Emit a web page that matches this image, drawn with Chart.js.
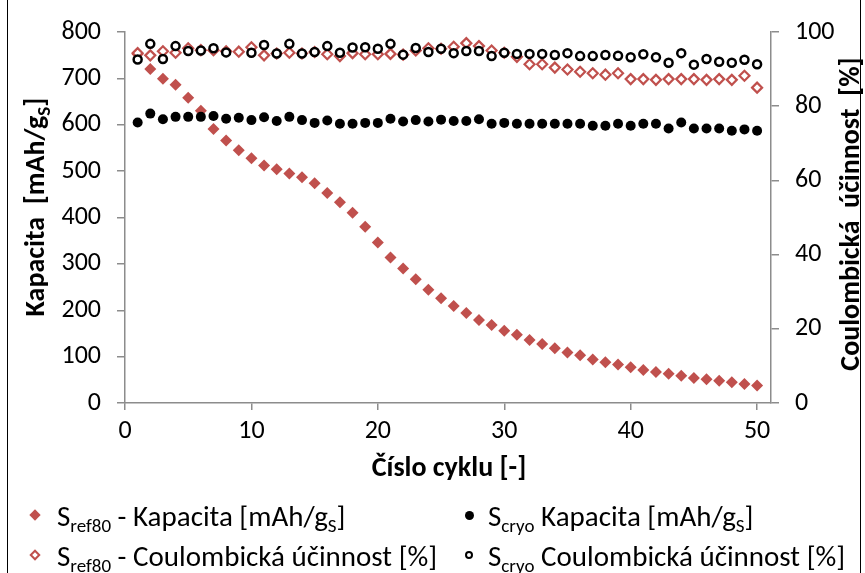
<!DOCTYPE html>
<html>
<head>
<meta charset="utf-8">
<script src="https://cdn.jsdelivr.net/npm/chart.js@4"></script>
<style>
  body { margin: 0; background: #fff; }
  #wrap { position: relative; width: 865px; height: 573px; font-family: Carlito, Lato, "Open Sans", sans-serif; color: #000; }
  #chart { position: absolute; left: 0; top: 0; }
  .frame { position: absolute; top: 0; bottom: 0; width: 0; border-left: 1.5px solid #000; }
  .title { position: absolute; font-weight: bold; font-size: 28px; white-space: nowrap; line-height: 1; }
  .rot { transform: translate(-50%, -50%) rotate(-90deg); }
  .legend { position: absolute; font-size: 29px; white-space: nowrap; line-height: 1; }
  sub { font-size: 19px; vertical-align: -6px; line-height: 0; }
  .mk { position: absolute; box-sizing: border-box; }
</style>
</head>
<body>
<div id="wrap">
  <canvas id="chart" width="865" height="573"></canvas>
  <div class="frame" style="left:7px"></div>
  <div class="frame" style="left:860px"></div>
  <div class="title rot" style="left:35px; top:207px">Kapacita&nbsp; [mAh/g<sub>S</sub>]</div>
  <div class="title rot" style="left:850px; top:214px">Coulombická&nbsp; účinnost&nbsp; [%]</div>
  <div class="title" style="left:449px; top:467px; transform: translate(-50%, -50%)">Číslo cyklu [-]</div>

  <div class="mk" style="left:31px; top:511px; width:8px; height:8px; background:#C0504D; transform:rotate(45deg)"></div>
  <div class="legend" style="left:57px; top:502px">S<sub>ref80</sub> - Kapacita [mAh/g<sub>S</sub>]</div>
  <div class="mk" style="left:465px; top:511px; width:9px; height:9px; background:#000; border-radius:50%"></div>
  <div class="legend" style="left:488px; top:502px">S<sub>cryo</sub> Kapacita [mAh/g<sub>S</sub>]</div>

  <div class="mk" style="left:31px; top:551px; width:8px; height:8px; border:2px solid #C0504D; background:#fff; transform:rotate(45deg)"></div>
  <div class="legend" style="left:57px; top:542px">S<sub>ref80</sub> - Coulombická účinnost [%]</div>
  <div class="mk" style="left:465px; top:551px; width:8px; height:8px; border:2px solid #000; background:#fff; border-radius:50%"></div>
  <div class="legend" style="left:488px; top:542px">S<sub>cryo</sub> Coulombická účinnost [%]</div>
</div>
<script>
const cycles = [1, 2, 3, 4, 5, 6, 7, 8, 9, 10, 11, 12, 13, 14, 15, 16, 17, 18, 19, 20,
  21, 22, 23, 24, 25, 26, 27, 28, 29, 30, 31, 32, 33, 34, 35, 36, 37, 38, 39, 40,
  41, 42, 43, 44, 45, 46, 47, 48, 49, 50]

const refCapacity = [752, 720, 699, 686, 658, 630, 591, 566, 545, 528, 512, 504, 495, 487, 474, 453, 433, 410, 380, 346,
  314, 290, 267, 244, 226, 209, 194, 179, 168, 156, 147, 136, 127, 118, 109, 103, 94, 88, 83, 77,
  71, 67, 63, 59, 54, 51, 48, 45, 41, 38]

const cryoCapacity = [605, 624, 612, 617, 617, 617, 619, 613, 615, 610, 616, 608, 617, 610, 604, 609, 602, 602, 604, 604,
  613, 607, 610, 607, 611, 608, 608, 612, 602, 604, 602, 602, 602, 602, 602, 602, 598, 598, 602, 598,
  602, 602, 592, 605, 592, 592, 592, 587, 590, 587]

const refEfficiency = [94.3, 93.7, 94.8, 94.4, 95.6, 95.1, 95.1, 94.8, 94.7, 95.9, 93.7, 94.2, 94.4, 94.2, 94.6, 94.0, 93.5, 94.3, 94.0, 94.0,
  94.1, 93.9, 95.0, 95.6, 95.5, 96.0, 97.0, 96.2, 95.0, 94.4, 93.3, 91.3, 91.3, 90.4, 89.9, 89.3, 88.9, 88.5, 88.9, 87.3,
  87.3, 87.1, 87.3, 87.3, 87.3, 87.1, 87.3, 87.1, 88.2, 85.0]

const cryoEfficiency = [92.6, 96.8, 92.7, 96.2, 94.9, 95.0, 95.6, 94.5, null, 94.4, 96.5, 94.2, 96.8, 94.2, 94.6, 96.2, 94.4, 95.8, 95.9, 95.5,
  96.8, 93.9, 95.7, 94.6, 95.5, 94.3, 94.9, 94.9, 93.5, 94.4, 94.1, 94.1, 94.1, 93.8, 94.3, 93.5, 93.5, 93.8, 93.6, 93.2,
  94.0, 93.2, 91.7, 94.3, 91.2, 92.7, 92.0, 91.7, 92.5, 91.3]

const xTicks = [0, 10, 20, 30, 40, 50]

const red = "#C0504D"
const axisColor = "#8c8c8c"
const fontFamily = 'Carlito, Lato, "Open Sans", sans-serif'

function toPoints(values) {
  return cycles.map((c, i) => ({ x: c, y: values[i] }))
}

const ctx = document.getElementById("chart").getContext("2d")
const chart = new Chart(ctx, {
  type: "scatter",
  data: {
    datasets: [
      {
        label: "Scryo Coulombická účinnost [%]",
        data: toPoints(cryoEfficiency),
        yAxisID: "y2",
        pointStyle: "circle",
        pointRadius: 4,
        borderWidth: 2.5,
        borderColor: "#000",
        backgroundColor: "#fff"
      },
      {
        label: "Scryo Kapacita [mAh/gS]",
        data: toPoints(cryoCapacity),
        yAxisID: "y",
        pointStyle: "circle",
        pointRadius: 5,
        borderWidth: 0,
        borderColor: "#000",
        backgroundColor: "#000"
      },
      {
        label: "Sref80 - Coulombická účinnost [%]",
        data: toPoints(refEfficiency),
        yAxisID: "y2",
        pointStyle: "rectRot",
        pointRadius: 5,
        borderWidth: 2.2,
        borderColor: red,
        backgroundColor: "#fff"
      },
      {
        label: "Sref80 - Kapacita [mAh/gS]",
        data: toPoints(refCapacity),
        yAxisID: "y",
        pointStyle: "rectRot",
        pointRadius: 6,
        borderWidth: 0,
        borderColor: red,
        backgroundColor: red
      }
    ]
  },
  options: {
    responsive: false,
    animation: false,
    devicePixelRatio: 1,
    layout: { padding: { top: 32, left: 0, right: 0, bottom: 0 } },
    plugins: {
      legend: { display: false },
      tooltip: { enabled: false }
    },
    scales: {
      x: {
        type: "linear",
        position: "bottom",
        min: 0,
        max: 51.1,
        afterBuildTicks: (s) => { s.ticks = xTicks.map(v => ({ value: v })) },
        afterFit: (s) => { s.height = 170 },
        grid: { drawOnChartArea: false, tickLength: 7, color: axisColor, lineWidth: 1.5 },
        border: { color: axisColor, width: 1.5 },
        ticks: { color: "#000", padding: 6, font: { family: fontFamily, size: 26 } }
      },
      y: {
        type: "linear",
        position: "left",
        min: 0,
        max: 800,
        afterFit: (s) => { s.width = 125 },
        grid: { drawOnChartArea: false, tickLength: 8, color: axisColor, lineWidth: 1.5 },
        border: { color: axisColor, width: 1.5 },
        ticks: { stepSize: 100, color: "#000", padding: 16, font: { family: fontFamily, size: 26 } }
      },
      y2: {
        type: "linear",
        position: "right",
        min: 0,
        max: 100,
        afterFit: (s) => { s.width = 94 },
        grid: { drawOnChartArea: false, tickLength: 8, color: axisColor, lineWidth: 1.5 },
        border: { color: axisColor, width: 1.5 },
        ticks: { stepSize: 20, color: "#000", padding: 16, font: { family: fontFamily, size: 26 } }
      }
    }
  }
})
</script>
</body>
</html>
